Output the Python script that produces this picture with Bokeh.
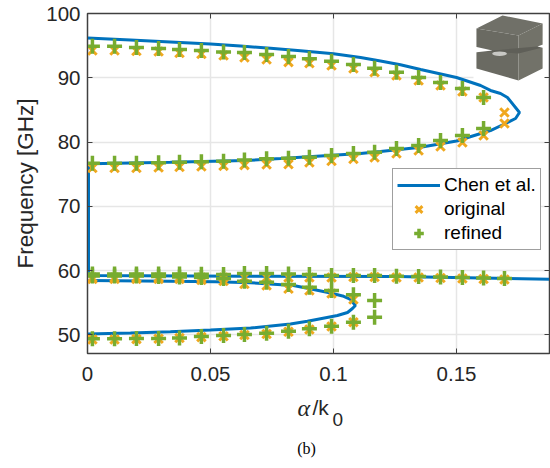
from bokeh.plotting import figure
from bokeh.models import (Range1d, FixedTicker, LinearAxis, Legend, LegendItem, Label)
from bokeh.embed import file_html
from bokeh.resources import INLINE

FONT = "Liberation Sans"
TXT = "#262626"
AX = "#404040"
BLUE = "#0072BD"
ORANGE = "#F0A81E"
GREEN = "#77AC30"

x_ticks = [0, 0.05, 0.1, 0.15]
x_labels = ["0", "0.05", "0.1", "0.15"]
y_ticks = [50, 60, 70, 80, 90, 100]

alpha = [.0020, .0110, .0199, .0289, .0374, .0463, .0553, .0638, .0728, .0817,
         .0902, .0992, .1081, .1167, .1256, .1346, .1435, .1524, .1610, .1695]

# Chen et al. curves
chen_a_x = [0, .0175, .0337, .05, .0622, .0744, .0866, .1, .111, .1191, .1272, .1354, .15, .1598, .1638, .1679,
            .1707, .1756, .1740, .1699, .1638, .15, .1354, .1191, .111, .0785, .0642,
            .0337, .0012, .0004, .0004, .0004, .0642, .1256, .1878]
chen_a_y = [96.19, 95.88, 95.57, 95.26, 94.95, 94.59, 94.21, 93.73, 93.16, 92.61, 92.02, 91.29, 90.05, 88.80, 88.03, 87.56,
            86.94, 84.60, 83.67, 82.89, 81.80, 80.17, 79.21, 78.54, 78.23, 77.45, 77.14,
            76.86, 76.64, 76.60, 59.25, 59.25, 59.15, 59.10, 58.68]
chen_b_x = [.0004, .0337, .052, .0663, .0837, .0919, .0988, .1037, .1069, .1089, .1077, .1057,
            .1016, .0894, .0825, .0663, .05, .0337, .0175, 0]
chen_b_y = [58.48, 58.37, 58.27, 58.12, 57.70, 57.08, 56.53, 56.07, 55.52, 54.59, 54.12, 53.50,
            53.03, 52.15, 51.71, 51.09, 50.78, 50.52, 50.31, 50.15]

# top band
orig_1 = [94.25, 94.25, 94.17, 94.09, 93.86, 93.70, 93.47, 93.16, 92.85, 92.43,
          92.27, 91.91, 91.45, 90.87, 90.36, 89.58, 88.80, 87.87, 86.94, 84.60]
ref_1 = [94.91, 94.91, 94.71, 94.56, 94.40, 94.25, 94.01, 93.93, 93.62, 93.31,
         92.95, 92.58, 92.07, 91.49, 90.87, 90.05, 89.27, 88.34, 86.94]
# second band
orig_2 = [75.97, 75.97, 75.97, 76.05, 76.13, 76.20, 76.30, 76.42, 76.52, 76.56,
          76.83, 77.06, 77.37, 77.60, 78.23, 78.69, 79.32, 79.94, 81.03, 82.89]
ref_2 = [76.72, 76.72, 76.72, 76.78, 76.87, 76.94, 77.03, 77.22, 77.40, 77.50,
         77.65, 77.92, 78.23, 78.43, 79.00, 79.47, 80.25, 81.03, 82.11]
# third band
orig_3 = [58.94, 58.94, 58.94, 58.94, 58.94, 58.94, 58.94, 58.94, 58.94, 58.94,
          58.94, 58.94, 59.02, 59.02, 58.94, 58.94, 58.87, 58.79, 58.71, 58.63]
ref_3 = [59.49, 59.49, 59.49, 59.49, 59.49, 59.46, 59.41, 59.57, 59.57, 59.49,
         59.41, 59.25, 59.25, 59.25, 59.15, 59.10, 59.02, 58.94, 58.87, 58.79]
# fourth band
orig_4 = [58.71, 58.71, 58.71, 58.71, 58.71, 58.55, 58.40, 57.93, 57.70, 57.19,
          56.92, 56.45, 55.52]
ref_4 = [59.18, 59.18, 59.18, 59.10, 59.02, 58.94, 58.79, 58.37, 58.21, 57.85,
         57.44, 56.92, 56.25, 55.37]
# bottom band
orig_5 = [49.30, 49.30, 49.35, 49.41, 49.53, 49.66, 49.81, 50.00, 50.15, 50.50,
          50.86, 51.32, 51.99]
ref_5 = [49.41, 49.41, 49.46, 49.46, 49.53, 49.77, 49.92, 50.08, 50.28, 50.59,
         50.97, 51.37, 51.99, 52.77]

# inset picture of the unit cell, placed in axes coordinates
inset_bg_x = [.1569, .1862, .1862, .1569]
inset_bg_y = [99.69, 99.69, 89.27, 89.27]
top_x = [.1581, .1687, .1850, .1752]
top_y = [97.67, 99.69, 98.44, 96.58]
left_x = [.1581, .1752, .1752, .1581]
left_y = [97.67, 96.58, 89.58, 91.45]
right_x = [.1752, .1850, .1850, .1752]
right_y = [96.58, 98.44, 91.45, 89.58]
notch_x = [.1581, .1646, .1829, .1850, .1850, .1752, .1581]
notch_y = [94.71, 94.25, 94.87, 95.18, 94.71, 93.78, 94.25]
gap_l_x = [.1573, .1646, .1573]
gap_l_y = [94.87, 94.25, 93.93]
gap_r_x = [.1862, .1829, .1862]
gap_r_y = [95.34, 94.87, 94.56]

p = figure(width=550, height=468, output_backend="svg", toolbar_location=None,
           x_range=Range1d(0, .1878), y_range=Range1d(47.12, 100),
           min_border_left=87, min_border_right=1, min_border_top=13, min_border_bottom=115,
           background_fill_color="white", border_fill_color="white")

for ax in (p.xaxis[0], p.yaxis[0]):
    ax.major_tick_in = 5
    ax.major_tick_out = 0
    ax.minor_tick_line_color = None
    ax.axis_line_color = AX
    ax.major_tick_line_color = AX
    ax.major_label_text_font = FONT
    ax.major_label_text_font_size = "20.5px"
    ax.major_label_text_color = TXT

p.xaxis[0].ticker = FixedTicker(ticks=x_ticks)
p.xaxis[0].major_label_overrides = {t: l for t, l in zip(x_ticks, x_labels)}
p.xaxis[0].major_label_standoff = 13
p.yaxis[0].ticker = FixedTicker(ticks=y_ticks)
p.yaxis[0].major_label_standoff = 7
p.yaxis[0].axis_label = "Frequency [GHz]"
p.yaxis[0].axis_label_text_font = FONT
p.yaxis[0].axis_label_text_font_style = "normal"
p.yaxis[0].axis_label_text_font_size = "22.5px"
p.yaxis[0].axis_label_text_color = TXT
p.yaxis[0].axis_label_standoff = 5

p.xgrid.ticker = FixedTicker(ticks=x_ticks)
p.ygrid.ticker = FixedTicker(ticks=y_ticks)
p.grid.grid_line_color = "#e6e6e6"
p.grid.grid_line_width = 1.5
p.outline_line_color = AX
p.outline_line_width = 1.5

for side, ticks in (("above", x_ticks), ("right", y_ticks)):
    a = LinearAxis(ticker=FixedTicker(ticks=ticks), major_tick_in=5, major_tick_out=0,
                   minor_tick_line_color=None, axis_line_color=AX, major_tick_line_color=AX,
                   major_label_text_font_size="0px", major_label_standoff=0,
                   major_label_text_color=None)
    p.add_layout(a, side)

# inset
p.patch(inset_bg_x, inset_bg_y, color="white", line_color=None)
p.patch(left_x, left_y, color="#6a6a62", line_color=None)
p.patch(right_x, right_y, color="#727269", line_color=None)
p.patch(top_x, top_y, color="#707068", line_color=None)
p.patch(notch_x, notch_y, color="#5f5f58", line_color=None)
p.patch(gap_l_x, gap_l_y, color="white", line_color=None)
p.patch(gap_r_x, gap_r_y, color="white", line_color=None)
p.ellipse([.1675], [93.75], width=.006, height=.7, color="#c8c8c4", line_color=None)

l1 = p.line(chen_a_x, chen_a_y, color=BLUE, line_width=3)
p.line(chen_b_x, chen_b_y, color=BLUE, line_width=3)

xs = []
for y in (orig_1, orig_2, orig_3, orig_4, orig_5):
    xs.append(p.scatter(alpha[:len(y)], y, marker="x", size=12, line_color=ORANGE, line_width=3,
                        fill_color=None))
ps = []
for y in (ref_1, ref_2, ref_3, ref_4, ref_5):
    ps.append(p.scatter(alpha[:len(y)], y, marker="cross", size=15, line_color=GREEN, line_width=3.5,
                        fill_color=None))

legend = Legend(items=[LegendItem(label="Chen et al.", renderers=[l1]),
                       LegendItem(label="original", renderers=[xs[0]]),
                       LegendItem(label="refined", renderers=[ps[0]])],
                location=(305, 103), orientation="vertical", glyph_width=43, glyph_height=24,
                label_standoff=4, label_height=24, padding=4, margin=0, spacing=0,
                label_text_font=FONT, label_text_font_size="19px", label_text_color="black",
                border_line_color=AX, border_line_width=1.5,
                background_fill_color="white", background_fill_alpha=1)
p.add_layout(legend, "center")

def lab(text, x, y_top, font=FONT, size="21px", style="normal", color=TXT, align="left"):
    p.add_layout(Label(x=x, y=y_top, x_units="canvas", y_units="canvas",
                       text=text, text_font=font, text_font_size=size, text_font_style=style,
                       text_color=color, text_align=align, text_baseline="alphabetic"), "below")

lab("α", 297, 407, font="Liberation Serif", size="24px", style="italic")
lab("/k", 312, 407)
lab("0", 332, 419, size="19px")
lab("(b)", 306, 448, font="Liberation Serif", size="16px", color="black", align="center")

open("out.html", "w").write(file_html(p, INLINE))
